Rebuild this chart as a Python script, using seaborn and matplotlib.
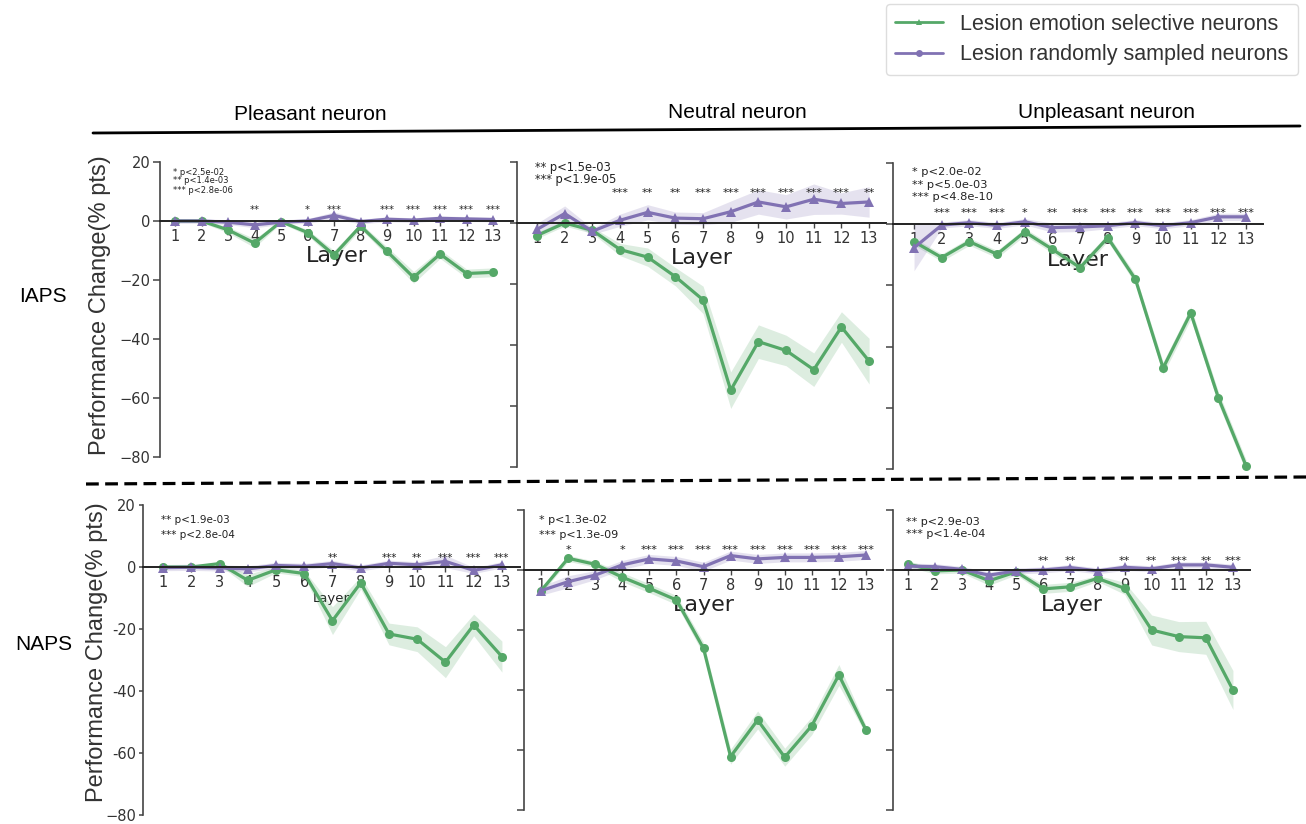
import numpy as np
import pandas as pd
import matplotlib
matplotlib.use("Agg")
import matplotlib.pyplot as plt
from matplotlib.lines import Line2D
import seaborn as sns

# ---------------------------------------------------------------- data
layers = list(range(1, 14))

# IAPS / Pleasant neuron
iaps_pleasant_sel = [0.0, 0.0, -3.0, -7.5, -0.2, -3.9, -11.5, -1.7, -10.3, -19.1, -11.2, -17.8, -17.4]
iaps_pleasant_sel_err = [0.5, 0.5, 1.0, 1.5, 0.5, 1.0, 1.5, 1.0, 1.5, 2.0, 1.5, 1.5, 1.5]
iaps_pleasant_rand = [0.0, 0.0, -0.4, -1.3, -0.4, 0.0, 1.9, -0.2, 0.6, 0.3, 0.9, 0.7, 0.5]
iaps_pleasant_rand_err = [0.8, 0.8, 0.8, 1.0, 0.8, 0.8, 1.2, 0.8, 0.8, 0.8, 0.8, 0.8, 0.8]
iaps_pleasant_stars = ['', '', '', '**', '', '*', '***', '', '***', '***', '***', '***', '***']
iaps_pleasant_p = ['* p<2.5e-02', '** p<1.4e-03', '*** p<2.8e-06']

# IAPS / Neutral neuron
iaps_neutral_sel = [-4.1, 0.0, -2.4, -8.7, -11.2, -17.6, -25.2, -54.8, -38.9, -41.8, -48.1, -34.1, -45.3]
iaps_neutral_sel_err = [1.0, 1.0, 1.0, 2.0, 3.0, 3.0, 4.5, 6.0, 5.5, 5.0, 5.5, 5.0, 7.5]
iaps_neutral_rand = [-2.1, 3.1, -2.7, 0.9, 3.5, 1.6, 1.4, 3.7, 6.9, 5.3, 7.8, 6.4, 6.9]
iaps_neutral_rand_err = [2.0, 2.5, 1.0, 2.0, 2.5, 2.0, 2.0, 3.5, 4.0, 4.0, 5.0, 3.5, 5.0]
iaps_neutral_stars = ['', '', '', '***', '**', '**', '***', '***', '***', '***', '***', '***', '**']
iaps_neutral_p = ['** p<1.5e-03', '*** p<1.9e-05']

# IAPS / Unpleasant neuron
iaps_unpleasant_sel = [-5.7, -10.9, -5.7, -9.8, -2.5, -8.2, -14.2, -4.4, -18.0, -47.0, -29.0, -56.8, -79.0]
iaps_unpleasant_sel_err = [1.2, 1.2, 1.2, 1.2, 1.2, 1.2, 1.5, 1.2, 1.5, 2.0, 2.0, 2.0, 2.0]
iaps_unpleasant_rand = [-7.7, -0.3, 0.5, -0.4, 0.8, -1.1, -0.9, -0.5, 0.5, -0.5, 0.5, 2.4, 2.4]
iaps_unpleasant_rand_err = [7.5, 1.0, 1.0, 1.0, 1.0, 1.5, 1.5, 1.0, 1.0, 1.0, 1.0, 1.2, 1.2]
iaps_unpleasant_stars = ['', '***', '***', '***', '*', '**', '***', '***', '***', '***', '***', '***', '***']
iaps_unpleasant_p = ['* p<2.0e-02', '** p<5.0e-03', '*** p<4.8e-10']

# NAPS / Pleasant neuron
naps_pleasant_sel = [0.0, 0.0, 1.1, -4.3, -0.9, -2.1, -17.3, -5.1, -21.6, -23.3, -30.7, -18.7, -28.9]
naps_pleasant_sel_err = [0.5, 0.5, 0.5, 2.0, 1.0, 1.0, 4.5, 2.0, 3.5, 4.0, 5.0, 3.5, 5.0]
naps_pleasant_rand = [-0.2, -0.1, -0.3, -0.6, 0.5, 0.2, 1.1, -0.3, 1.2, 0.7, 1.8, -1.1, 0.7]
naps_pleasant_rand_err = [1.0, 1.0, 1.0, 1.0, 1.0, 1.0, 1.0, 1.0, 1.0, 1.0, 2.0, 1.0, 1.0]
naps_pleasant_stars = ['', '', '', '', '', '', '**', '', '***', '**', '***', '***', '***']
naps_pleasant_p = ['** p<1.9e-03', '*** p<2.8e-04']

# NAPS / Neutral neuron
naps_neutral_sel = [-6.9, 3.9, 1.9, -2.4, -6.1, -10.0, -26.1, -62.2, -50.0, -62.4, -51.9, -35.0, -53.3]
naps_neutral_sel_err = [1.0, 1.0, 1.0, 1.5, 1.5, 1.5, 2.0, 2.5, 3.0, 3.0, 3.0, 3.5, 1.5]
naps_neutral_rand = [-6.9, -3.9, -1.7, 1.7, 3.7, 3.0, 1.1, 4.8, 3.7, 4.2, 4.2, 4.4, 5.0]
naps_neutral_rand_err = [1.5, 2.0, 1.5, 1.5, 1.5, 1.5, 1.5, 1.5, 1.5, 1.5, 1.5, 1.5, 1.5]
naps_neutral_stars = ['', '*', '', '*', '***', '***', '***', '***', '***', '***', '***', '***', '***']
naps_neutral_p = ['* p<1.3e-02', '*** p<1.3e-09']

# NAPS / Unpleasant neuron
naps_unpleasant_sel = [2.0, -0.3, 0.0, -3.6, -0.6, -6.3, -5.6, -2.8, -6.1, -20.0, -22.2, -22.6, -40.0]
naps_unpleasant_sel_err = [1.0, 1.0, 1.0, 1.5, 1.0, 1.5, 1.5, 1.0, 2.0, 5.0, 5.0, 5.5, 6.5]
naps_unpleasant_rand = [1.3, 1.1, 0.2, -1.7, -0.3, 0.0, 0.8, -0.3, 0.9, 0.4, 1.7, 1.7, 0.9]
naps_unpleasant_rand_err = [1.0, 1.0, 1.0, 1.0, 1.0, 1.0, 1.0, 1.0, 1.0, 1.0, 1.0, 1.0, 1.0]
naps_unpleasant_stars = ['', '', '', '', '', '**', '**', '', '**', '**', '***', '**', '***']
naps_unpleasant_p = ['** p<2.9e-03', '*** p<1.4e-04']

column_titles = ["Pleasant neuron", "Neutral neuron", "Unpleasant neuron"]
row_titles = ["IAPS", "NAPS"]
legend_labels = ["Lesion emotion selective neurons", "Lesion randomly sampled neurons"]
y_ticks = [20, 0, -20, -40, -60, -80]
y_ticklabels_iaps = ["20", "0", "\u221220", "\u221240", "\u221260", "\u221280"]
y_ticklabels_naps = ["20", "0", "-20", "-40", "-60", "\u221280"]

# ---------------------------------------------------------------- style
sns.set_theme(style="ticks")
plt.rcParams["font.family"] = ["DejaVu Sans"]
SANS = ["Liberation Sans", "DejaVu Sans"]
GREEN = "#55a868"
PURPLE = "#8172b3"
INK = "#333333"

W, H = 1306, 824
fig = plt.figure(figsize=(W / 100, H / 100), dpi=100)


def add_px_axes(x0, x1, y0, y1):
    return fig.add_axes([x0 / W, 1 - y1 / H, (x1 - x0) / W, (y1 - y0) / H])


def long_table(mean, err):
    # two rows per layer (mean - err, mean + err): their mean is the curve,
    # their full range is the shaded band
    m = np.asarray(mean, float)
    e = np.asarray(err, float)
    return pd.DataFrame({
        "Layer": layers + layers,
        "value": np.concatenate([m - e, m + e]),
    })


panels = [
    dict(sel=iaps_pleasant_sel, sel_err=iaps_pleasant_sel_err,
         rand=iaps_pleasant_rand, rand_err=iaps_pleasant_rand_err,
         stars=iaps_pleasant_stars, p=iaps_pleasant_p,
         box=(160, 513, 162, 457), xlim=(0.434, 13.75), xlab_fs=16,
         star_y=3.6, star_fs=7.2, p_y=[16.3, 13.6, 10.5], p_fs=6.0,
         ylabels=y_ticklabels_iaps, ytick_len=5),
    dict(sel=iaps_neutral_sel, sel_err=iaps_neutral_sel_err,
         rand=iaps_neutral_rand, rand_err=iaps_neutral_rand_err,
         stars=iaps_neutral_stars, p=iaps_neutral_p,
         box=(517, 886, 162, 467), xlim=(0.277, 13.61), xlab_fs=16,
         star_y=9.9, star_fs=8.2, p_y=[18.3, 14.3], p_fs=8.3,
         ylabels=None, ytick_len=5),
    dict(sel=iaps_unpleasant_sel, sel_err=iaps_unpleasant_sel_err,
         rand=iaps_unpleasant_rand, rand_err=iaps_unpleasant_rand_err,
         stars=iaps_unpleasant_stars, p=iaps_unpleasant_p,
         box=(893, 1263, 163, 469), xlim=(0.24, 13.61), xlab_fs=16,
         star_y=3.7, star_fs=8.2, p_y=[17.0, 12.7, 8.8], p_fs=8.2,
         ylabels=None, ytick_len=5),
    dict(sel=naps_pleasant_sel, sel_err=naps_pleasant_sel_err,
         rand=naps_pleasant_rand, rand_err=naps_pleasant_rand_err,
         stars=naps_pleasant_stars, p=naps_pleasant_p,
         box=(143, 520, 505, 815), xlim=(0.29, 13.64), xlab_fs=9.5,
         star_y=3.0, star_fs=7.5, p_y=[15.2, 10.3], p_fs=7.5,
         ylabels=y_ticklabels_naps, ytick_len=3),
    dict(sel=naps_neutral_sel, sel_err=naps_neutral_sel_err,
         rand=naps_neutral_rand, rand_err=naps_neutral_rand_err,
         stars=naps_neutral_stars, p=naps_neutral_p,
         box=(524, 883, 510, 810), xlim=(0.37, 13.63), xlab_fs=16,
         star_y=6.8, star_fs=8.2, p_y=[16.7, 11.7], p_fs=8.0,
         ylabels=None, ytick_len=5),
    dict(sel=naps_unpleasant_sel, sel_err=naps_unpleasant_sel_err,
         rand=naps_unpleasant_rand, rand_err=naps_unpleasant_rand_err,
         stars=naps_unpleasant_stars, p=naps_unpleasant_p,
         box=(893, 1250, 510, 810), xlim=(0.45, 13.63), xlab_fs=16,
         star_y=3.1, star_fs=8.2, p_y=[16.0, 12.0], p_fs=8.0,
         ylabels=None, ytick_len=5),
]

for cfg in panels:
    ax = add_px_axes(*cfg["box"])
    common = dict(x="Layer", y="value", estimator="mean", errorbar=("pi", 100),
                  err_kws=dict(alpha=0.2, linewidth=0), linewidth=2.3,
                  markersize=6.5, markeredgewidth=0, ax=ax, legend=False,
                  clip_on=False)
    sns.lineplot(data=long_table(cfg["sel"], cfg["sel_err"]), color=GREEN,
                 marker="o", **common)
    sns.lineplot(data=long_table(cfg["rand"], cfg["rand_err"]), color=PURPLE,
                 marker="^", **common)

    ax.set_ylim(-80, 20)
    ax.set_xlim(*cfg["xlim"])
    ax.set_yticks(y_ticks)
    ax.set_xticks(layers)
    ax.set_xticklabels([str(v) for v in layers])
    if cfg["ylabels"] is None:
        ax.set_yticklabels([])
    else:
        ax.set_yticklabels(cfg["ylabels"])
    ax.set_ylabel("")
    ax.set_xlabel("Layer", fontsize=cfg["xlab_fs"], color="#222222", labelpad=2)

    for side in ("top", "right"):
        ax.spines[side].set_visible(False)
    ax.spines["bottom"].set_position(("data", 0))
    ax.spines["bottom"].set_color("#222222")
    ax.spines["left"].set_color("#444444")
    ax.spines["bottom"].set_linewidth(1.4)
    ax.spines["left"].set_linewidth(1.2)
    ax.tick_params(axis="y", labelsize=10.5, length=cfg["ytick_len"], width=1.1,
                   colors="#444444", labelcolor=INK, pad=2)
    ax.tick_params(axis="x", labelsize=10.5, length=3.5, width=1.0,
                   colors="#444444", labelcolor=INK, pad=2)
    ax.patch.set_visible(False)

    for lay, s in zip(layers, cfg["stars"]):
        if s:
            ax.text(lay, cfg["star_y"], s, ha="center", va="center",
                    fontsize=cfg["star_fs"], color="#222222")
    for yy, line in zip(cfg["p_y"], cfg["p"]):
        ax.text(0.93, yy, line, ha="left", va="center",
                fontsize=cfg["p_fs"], color="#222222")

# ---------------------------------------------------------------- figure text
for x, y, t in [(310, 115, column_titles[0]), (737, 113, column_titles[1]),
                (1106, 113, column_titles[2])]:
    fig.text(x / W, 1 - y / H, t, ha="center", va="center", fontsize=15,
             family=SANS, color="black")

for x, y, t in [(43, 297, row_titles[0]), (44, 645, row_titles[1])]:
    fig.text(x / W, 1 - y / H, t, ha="center", va="center", fontsize=15,
             family=SANS, color="black")

for x, y in [(100, 305), (97, 652)]:
    fig.text(x / W, 1 - y / H, "Performance Change(% pts)", rotation=90,
             ha="center", va="center", fontsize=17, family=SANS, color="#333333")

# separators under the column titles and between the two datasets
fig.add_artist(Line2D([93 / W, 1300 / W], [1 - 133 / H, 1 - 126 / H],
                      transform=fig.transFigure, color="black", lw=2))
fig.add_artist(Line2D([86 / W, 1306 / W], [1 - 484 / H, 1 - 477 / H],
                      transform=fig.transFigure, color="black", lw=2.3,
                      dashes=(4, 2)))

handles = [
    Line2D([], [], color=GREEN, marker="^", markersize=5, lw=2, markeredgewidth=0),
    Line2D([], [], color=PURPLE, marker="o", markersize=5, lw=2, markeredgewidth=0),
]
leg = fig.legend(handles, legend_labels, loc="upper right",
                 bbox_to_anchor=(1298 / W, 1 - 4 / H),
                 prop=dict(family=SANS, size=15.5), handlelength=2.2,
                 handletextpad=0.8, labelspacing=0.45, borderpad=0.45,
                 frameon=True, fancybox=True, framealpha=1,
                 edgecolor="#dddddd", borderaxespad=0)
for t in leg.get_texts():
    t.set_color(INK)

fig.savefig("out.png", dpi=100)
